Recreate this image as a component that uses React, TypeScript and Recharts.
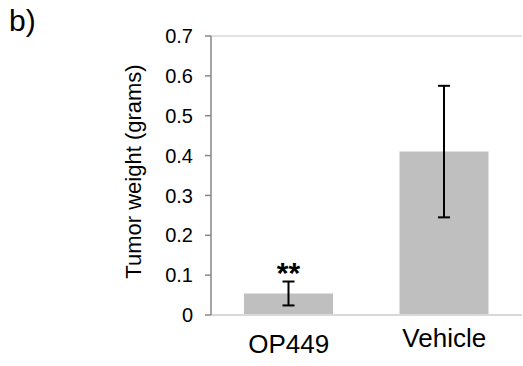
import { Bar, BarChart, ErrorBar, Label, LabelList, ReferenceLine, XAxis, YAxis } from "recharts";

const categories = ["OP449", "Vehicle"];
const weights = [0.054, 0.41];
const errors = [0.03, 0.165];
const significance = ["**", ""];
const yTicks = [0, 0.1, 0.2, 0.3, 0.4, 0.5, 0.6, 0.7];

const data = categories.map((name, i) => ({
  name,
  weight: weights[i],
  err: errors[i],
  sig: significance[i],
}));

const font = "'Liberation Sans', Arial, sans-serif";

function CategoryTick(props: any) {
  const { x, y, payload, index } = props;
  // the first label sits a little lower in the original
  const drop = index === 0 ? 38 : 32;
  return (
    <text x={x} y={y + drop} textAnchor="middle" fontSize={26} fill="#000" fontFamily={font}>
      {payload.value}
    </text>
  );
}

function StarLabel(props: any) {
  const { x, y, width, value } = props;
  if (!value) return null;
  return (
    <text x={x + width / 2} y={y - 10} textAnchor="middle" fontSize={30} fontWeight="bold" fill="#000" fontFamily={font}>
      {value}
    </text>
  );
}

function AxisTitle(props: any) {
  const { viewBox } = props;
  const cx = viewBox.x + 133;
  const cy = viewBox.y + viewBox.height / 2 - 4;
  return (
    <text
      x={cx}
      y={cy}
      transform={`rotate(-90 ${cx} ${cy})`}
      textAnchor="middle"
      dominantBaseline="central"
      fontSize={22}
      fill="#000"
      fontFamily={font}
    >
      Tumor weight (grams)
    </text>
  );
}

export default function App() {
  return (
    <div style={{ position: "absolute", left: 0, top: 0, width: 523, height: 366, background: "#fff" }}>
      <div style={{ position: "absolute", left: 9, top: 6, fontSize: 30, lineHeight: "30px", fontFamily: font }}>b)</div>
      <BarChart width={523} height={366} data={data} margin={{ top: 36, right: 1, bottom: 0, left: 0 }}>
        <ReferenceLine y={0.7} stroke="#d9d9d9" strokeWidth={1.5} />
        <XAxis
          dataKey="name"
          stroke="#d9d9d9"
          strokeWidth={2}
          tickLine={false}
          tickSize={0}
          tickMargin={0}
          tick={<CategoryTick />}
          height={51}
        />
        <YAxis
          domain={[0, 0.7]}
          ticks={yTicks}
          width={211}
          stroke="#868686"
          strokeWidth={1.5}
          tickSize={6}
          tickMargin={12}
          tick={{ fill: "#000", fontSize: 20, fontFamily: font }}
        >
          <Label content={<AxisTitle />} />
        </YAxis>
        <Bar dataKey="weight" fill="#bfbfbf" barSize={89} isAnimationActive={false}>
          <ErrorBar dataKey="err" direction="y" width={6} stroke="#000" strokeWidth={2} />
          <LabelList dataKey="sig" content={<StarLabel />} />
        </Bar>
      </BarChart>
    </div>
  );
}
